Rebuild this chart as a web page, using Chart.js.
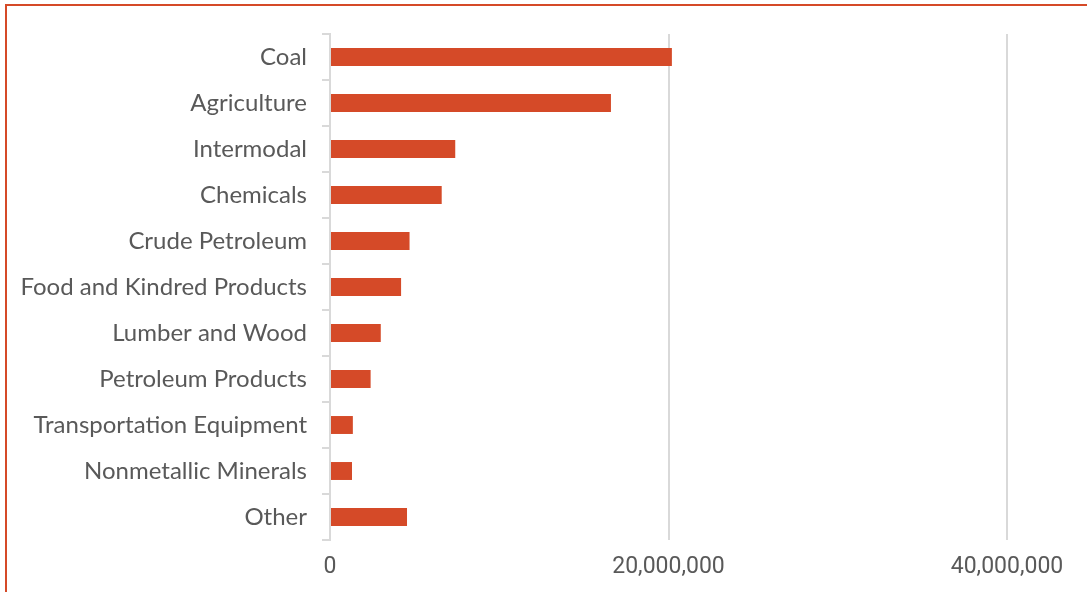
<!DOCTYPE html>
<html>
<head>
<meta charset="utf-8">
<script src="https://cdn.jsdelivr.net/npm/chart.js@4/dist/chart.umd.min.js"></script>
<style>
  html, body { margin: 0; padding: 0; background: #fff; overflow: hidden; }
  #wrap { position: absolute; left: 0; top: 0; width: 1087px; height: 592px; }
  #frame {
    position: absolute; left: 5px; top: 4px; width: 2000px; height: 2000px;
    border-left: 2px solid #d54a28; border-top: 2px solid #d54a28;
    pointer-events: none;
  }
</style>
</head>
<body>
<div id="wrap"><canvas id="carloads" width="1087" height="592"></canvas></div>
<div id="frame"></div>
<script>
const categories = [
  "Coal", "Agriculture", "Intermodal", "Chemicals", "Crude Petroleum",
  "Food and Kindred Products", "Lumber and Wood", "Petroleum Products",
  "Transportation Equipment", "Nonmetallic Minerals", "Other"
];
const tonnage = [
  20200000, 16600000, 7400000, 6600000, 4700000,
  4200000, 3000000, 2400000, 1350000, 1300000, 4550000
];
const xTicks = [0, 20000000, 40000000];

const barColor = "#d54a28";
const gridColor = "#d9d9d9";
const textColor = "#595959";

const ctx = document.getElementById("carloads").getContext("2d");
new Chart(ctx, {
  type: "bar",
  data: {
    labels: categories,
    datasets: [{
      data: tonnage,
      backgroundColor: barColor,
      borderWidth: 0,
      barPercentage: 0.39,
      categoryPercentage: 1
    }]
  },
  options: {
    indexAxis: "y",
    responsive: false,
    animation: false,
    layout: { padding: { top: 34, right: 80, left: 0, bottom: 0 } },
    plugins: { legend: { display: false }, tooltip: { enabled: false } },
    scales: {
      x: {
        min: 0,
        max: 40000000,
        afterBuildTicks: (scale) => { scale.ticks = xTicks.map(v => ({ value: v })); },
        afterFit: (scale) => { scale.height = 52; },
        border: { display: false },
        grid: { color: gridColor, lineWidth: 2, drawTicks: false },
        ticks: {
          padding: 13,
          color: textColor,
          font: { family: "Roboto", size: 23 },
          callback: (v) => Number(v).toLocaleString("en-US")
        }
      },
      y: {
        afterFit: (scale) => { scale.width = 330; },
        border: { display: true, color: gridColor, width: 2 },
        grid: { drawOnChartArea: false, drawTicks: true, tickLength: 8, color: gridColor, lineWidth: 2 },
        ticks: {
          padding: 15,
          color: textColor,
          font: { family: "Lato", size: 24 }
        }
      }
    }
  }
});
</script>
</body>
</html>
